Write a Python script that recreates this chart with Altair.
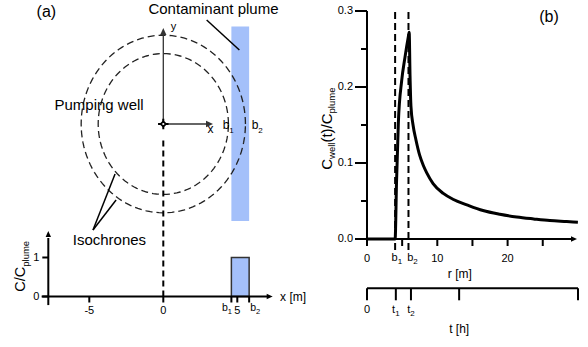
import altair as alt
import pandas as pd
import numpy as np

FONT = "Liberation Sans"
INK = "#000000"
GREY = "#333333"
PLUME = "#a4c0fa"

# ---------------- data ----------------
# (a) plan view, metres
iso_radius = [4.4, 5.55]          # isochrones
plume_x = [4.6, 5.8]              # b1, b2
plume_y = [-6.06, 6.09]
axis_y_len = 6.0
axis_x_len = 3.36
# (a) concentration profile C/Cplume
xa_ticks = [-5, 0, 5]
xa_labels = ["-5", "0", "5"]
b_ticks = [4.6, 5.8]
b_names = ["1", "2"]
ca_ticks = [0, 1]
ca_labels = ["0", "1"]
# (b) breakthrough curve at the well
r_m = [0, 4.0, 4.2, 4.46, 4.93, 5.4, 5.88, 6.0, 6.12, 6.25, 6.55, 6.95, 7.5, 8.0,
       8.5, 9.4, 10.85, 12.3, 14.2, 16.5, 18.9, 21.3, 23.7, 26.0, 28.4, 30.0]
c_rel = [0, 0, 0.075, 0.153, 0.208, 0.239, 0.266, 0.272, 0.215, 0.175, 0.150, 0.131,
         0.110, 0.097, 0.087, 0.073, 0.060, 0.052, 0.045, 0.0375, 0.0326, 0.029,
         0.0264, 0.0242, 0.0229, 0.022]
b_lines = [4.0, 5.9]
r_major = [0, 10, 20]
r_major_labels = ["0", "10", "20"]
r_minor = [5, 15, 25]
c_major = [0, 0.1, 0.2, 0.3]
c_major_labels = ["0.0", "0.1", "0.2", "0.3"]
c_minor = [0.05, 0.15, 0.25]
t_ticks = [0, 4.1, 6.25, 13.1, 30]
t_named = [4.1, 6.25]


# ---------------- scales ----------------
def S(d0, d1, p0, p1):
    return alt.Scale(domain=[d0, d1], range=[p0, p1], zero=False, nice=False)


XA = S(0, 5, 163.3, 237.3)
YA = S(0, 5, 124, 44)
YB = S(0, 1, 296.5, 257.5)
XR = S(0, 10, 367, 437.3)
YC = S(0, 0.1, 239, 163)
XT = S(0, 30, 367, 578)
YT = S(0, 1, 288.3, 248.3)

CW = {" ": 278, "(": 333, ")": 333, "/": 278, ".": 278, "-": 333, "[": 278, "]": 278,
      "a": 556, "b": 556, "c": 500, "d": 556, "e": 556, "f": 278, "g": 556, "h": 556,
      "i": 222, "j": 222, "k": 500, "l": 222, "m": 833, "n": 556, "o": 556, "p": 556,
      "q": 556, "r": 333, "s": 500, "t": 278, "u": 556, "v": 500, "w": 722, "x": 500,
      "y": 500, "z": 500, "C": 722, "P": 667, "I": 278}


def tw(s, size):
    return sum(CW.get(ch, 556) for ch in s) * size / 1000.0


def pos(xs, ys, x2=False, y2=False):
    e = {"x": alt.X("x:Q", scale=xs, axis=None), "y": alt.Y("y:Q", scale=ys, axis=None)}
    if x2:
        e["x2"] = alt.X2("x2:Q")
    if y2:
        e["y2"] = alt.Y2("y2:Q")
    return e


def segs(xs, ys, x, y, x2, y2, **mk):
    df = pd.DataFrame({"x": x, "y": y, "x2": x2, "y2": y2})
    mk.setdefault("color", INK)
    return alt.Chart(df).mark_rule(**mk).encode(**pos(xs, ys, True, True))


def rect(xs, ys, x, x2, y, y2, **mk):
    df = pd.DataFrame({"x": [x], "y": [y], "x2": [x2], "y2": [y2]})
    return alt.Chart(df).mark_rect(**mk).encode(**pos(xs, ys, True, True))


def texts(xs, ys, x, y, labels, **mk):
    df = pd.DataFrame({"x": x, "y": y, "t": labels})
    mk.setdefault("font", FONT)
    mk.setdefault("color", INK)
    return alt.Chart(df).mark_text(**mk).encode(text="t:N", **pos(xs, ys))


def rich(xs, ys, x, y, pieces, align="center", angle=0, dx=0.0, dy=0.0):
    total = sum(tw(t, s) for t, s, _ in pieces)
    cur = dx + {"left": 0.0, "center": -total / 2, "right": -total}[align]
    out = []
    for t, s, sh in pieces:
        out.append(texts(xs, ys, [x], [y], [t], fontSize=s, align="left",
                         baseline="alphabetic", dx=cur, dy=dy + sh, angle=angle))
        cur += tw(t, s)
    return out


ARROW = "M 0 0 L -2 -0.9 L -2 0.9 Z"


def arrow(xs, ys, x, y, angle, size=36, color=INK):
    df = pd.DataFrame({"x": [x], "y": [y]})
    return alt.Chart(df).mark_point(shape=ARROW, filled=True, size=size, angle=angle,
                                    color=color, opacity=1, strokeWidth=0).encode(**pos(xs, ys))


layers = []

# ================= panel (a): plan view =================
layers.append(rect(XA, YA, plume_x[0], plume_x[1], plume_y[0], plume_y[1], color=PLUME))
ang = np.deg2rad(np.arange(0, 361, 3))
for R in iso_radius:
    df = pd.DataFrame({"x": R * np.cos(ang), "y": R * np.sin(ang), "i": np.arange(len(ang))})
    layers.append(alt.Chart(df).mark_line(color="#222222", strokeWidth=1.3, strokeDash=[7, 4])
                  .encode(order="i:Q", **pos(XA, YA)))
layers.append(segs(XA, YA, [0, 0], [0, 0], [0, axis_x_len - 0.3], [axis_y_len - 0.3, 0],
                   color=GREY, strokeWidth=1.3))
layers.append(arrow(XA, YA, 0, axis_y_len, 270, size=49, color=GREY))
layers.append(arrow(XA, YA, axis_x_len, 0, 0, size=49, color=GREY))
# dashed line from the well down to the profile axis
layers.append(segs(XA, YB, [0], [4.0], [0], [0], strokeDash=[6, 4], strokeWidth=2))
# pumping well symbol
wdf = pd.DataFrame({"x": [0.0], "y": [0.0]})
layers.append(alt.Chart(wdf).mark_point(shape="M -1 0 L 1 0 M 0 -1 L 0 1", filled=False, size=110,
                                        strokeWidth=2, color=INK, opacity=1).encode(**pos(XA, YA)))
layers.append(alt.Chart(wdf).mark_point(shape="diamond", filled=True, color=INK,
                                        size=60, opacity=1).encode(**pos(XA, YA)))
layers.append(alt.Chart(wdf).mark_point(shape="circle", filled=True, color="white",
                                        size=5, opacity=1).encode(**pos(XA, YA)))
# leader lines
layers.append(segs(XA, YA, [2.93, -4.75, -4.75], [6.5, -6.625, -6.625],
                   [5.14, -3.26, -3.19], [4.625, -3.125, -4.75], strokeWidth=1.5))
# annotations
layers.append(texts(XA, YA, [3.39], [6.85], ["Contaminant plume"], fontSize=15,
                    align="center", baseline="alphabetic"))
layers.append(texts(XA, YA, [-4.34], [0.875], ["Pumping well"], fontSize=15,
                    align="center", baseline="alphabetic"))
layers.append(texts(XA, YA, [-3.64], [-7.56], ["Isochrones"], fontSize=15,
                    align="center", baseline="alphabetic"))
layers.append(texts(XA, YA, [-7.9], [7.0], ["(a)"], fontSize=16, align="center", baseline="middle"))
layers.append(texts(XA, YA, [0.5], [5.88], ["y"], fontSize=11, align="left", baseline="alphabetic"))
layers.append(texts(XA, YA, [3.19], [-0.56], ["x"], fontSize=12, align="center", baseline="alphabetic"))
layers += rich(XA, YA, 4.01, -0.31, [("b", 12, 0), ("1", 8, 4)], align="left")
layers += rich(XA, YA, 5.97, -0.31, [("b", 12, 0), ("2", 8, 4)], align="left")

# ================= panel (a): profile =================
layers.append(rect(XA, YB, plume_x[0], plume_x[1], 0, 1, fill=PLUME, stroke=GREY, strokeWidth=1.5))
layers.append(segs(XA, YB, [-8.22, -7.77], [0, -0.22], [7.1, -7.77], [0, 1.5], strokeWidth=2))
layers.append(arrow(XA, YB, 7.39, 0, 0, size=36))
layers.append(arrow(XA, YB, -7.77, 1.68, 270, size=36))
layers.append(segs(XA, YB, [-7.77] * 2, ca_ticks, [-7.77] * 2, ca_ticks, strokeWidth=2, x2Offset=-6))
xt_all = xa_ticks + b_ticks
layers.append(segs(XA, YB, xt_all, [0] * len(xt_all), xt_all, [0] * len(xt_all),
                   strokeWidth=2, y2Offset=6))
layers.append(texts(XA, YB, [-7.77] * 2, ca_ticks, ca_labels, fontSize=11, align="right",
                    baseline="middle", dx=-9))
layers.append(texts(XA, YB, xa_ticks, [0] * 3, xa_labels, fontSize=11, align="center",
                    baseline="alphabetic", dy=17))
layers += rich(XA, YB, b_ticks[0], 0, [("b", 10.5, 0), (b_names[0], 7.5, 3)], align="left", dx=-9.5, dy=14)
layers += rich(XA, YB, b_ticks[1], 0, [("b", 10.5, 0), (b_names[1], 7.5, 3)], align="left", dx=1, dy=14)
layers.append(texts(XA, YB, [7.89], [0], ["x [m]"], fontSize=12, align="left", baseline="middle", dy=0.5))
layers += rich(XA, YB, -9.32, 0.123, [("C/C", 14.5, 0), ("plume", 9.5, 3.5)], align="left", angle=270)

# ================= panel (b) =================
layers.append(segs(XR, YC, b_lines, [-0.0145] * 2, b_lines, [0.3] * 2,
                   strokeDash=[7, 4], strokeWidth=2))
layers.append(segs(XR, YC, [0, 0], [0, 0], [0, 29.4], [0.3, 0], strokeWidth=2))
layers.append(arrow(XR, YC, 29.87, 0, 0, size=36))
layers.append(segs(XR, YC, [0] * 4, c_major, [0] * 4, c_major, strokeWidth=2, x2Offset=-12))
layers.append(segs(XR, YC, [0] * 3, c_minor, [0] * 3, c_minor, strokeWidth=2, x2Offset=-6))
rt = r_major + r_minor
layers.append(segs(XR, YC, rt, [0] * len(rt), rt, [0] * len(rt), strokeWidth=2, y2Offset=7))
cdf = pd.DataFrame({"x": r_m, "y": c_rel, "i": np.arange(len(r_m))})
layers.append(alt.Chart(cdf).mark_line(color=INK, strokeWidth=3, interpolate="monotone")
              .encode(order="i:Q", **pos(XR, YC)))
layers.append(texts(XR, YC, [0] * 4, c_major, c_major_labels, fontSize=11, align="right",
                    baseline="middle", dx=-14))
layers.append(texts(XR, YC, r_major, [0] * 3, r_major_labels, fontSize=11, align="center",
                    baseline="alphabetic", dy=23))
layers += rich(XR, YC, b_lines[0], 0, [("b", 11, 0), ("1", 8, 3)], align="center", dx=1.7, dy=22)
layers += rich(XR, YC, b_lines[1], 0, [("b", 11, 0), ("2", 8, 3)], align="center", dx=4, dy=22)
layers.append(texts(XR, YC, [13.2], [0], ["r [m]"], fontSize=12, align="center",
                    baseline="alphabetic", dy=38.5))
layers.append(texts(XR, YC, [25.9], [0.292], ["(b)"], fontSize=16, align="center", baseline="middle"))
layers += rich(XR, YC, -4.98, 0.0911,
               [("C", 15, 0), ("well", 9.5, 3.5), ("(t)/C", 15, 0), ("plume", 9.5, 3.5)],
               align="left", angle=270)
# time axis
layers.append(segs(XT, YT, [0], [0], [30], [0], strokeWidth=2))
layers.append(segs(XT, YT, t_ticks, [0] * len(t_ticks), t_ticks, [0] * len(t_ticks),
                   strokeWidth=2, y2Offset=12))
layers.append(texts(XT, YT, [0], [0], ["0"], fontSize=11, align="center", baseline="alphabetic", dy=25))
layers += rich(XT, YT, t_named[0], 0, [("t", 11, 0), ("1", 8, 3)], align="center", dy=25)
layers += rich(XT, YT, t_named[1], 0, [("t", 11, 0), ("2", 8, 3)], align="center", dy=25)
layers.append(texts(XT, YT, [13.1], [0], ["t [h]"], fontSize=12, align="center",
                    baseline="alphabetic", dy=44.7))

chart = (
    alt.layer(*layers)
    .resolve_scale(x="independent", y="independent")
    .properties(width=588, height=347, autosize=alt.AutoSizeParams(type="none"), padding=0)
    .configure_view(stroke=None)
)

chart.save("out.html", embed_options={"renderer": "svg", "actions": False})
